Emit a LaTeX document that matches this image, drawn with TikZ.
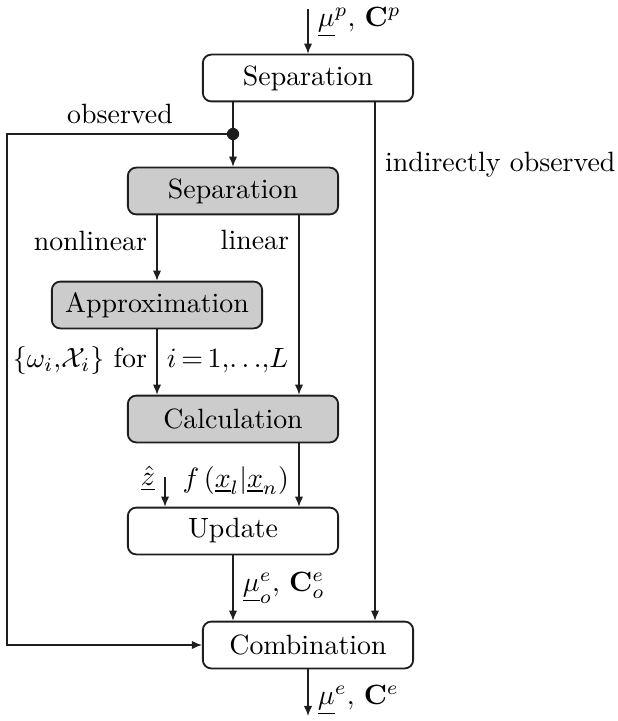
\documentclass[tikz,border=0pt]{standalone}
\usepackage{amsmath,amssymb}
\usepackage{xcolor}
\definecolor{boxgray}{RGB}{204, 204, 204}
\definecolor{linedark}{RGB}{30, 30, 30}
\usepackage{tikz}
\usetikzlibrary{arrows.meta, positioning, calc}

\begin{document}
\begin{tikzpicture}[x=0.0126cm, y=-0.0126cm, >={Latex[length=3.6pt,width=3pt]},
    block/.style={draw=linedark, line width=0.65pt, rounded corners=3pt, minimum width=2.65cm, minimum height=0.59cm, inner sep=2pt},
    plainblock/.style={block, fill=white},
    grayblock/.style={block, fill=boxgray},
    flow/.style={->, line width=0.5pt, draw=linedark}]
    \useasboundingbox (0,0) rectangle (617,721);
    \node[plainblock] (sepTop) at (308,78) {Separation};
    \node[grayblock] (sepInner) at (233,191) {Separation};
    \node[grayblock] (approx) at (157,305) {Approximation};
    \node[grayblock] (calc) at (233,419) {Calculation};
    \node[plainblock] (update) at (233,531) {Update};
    \node[plainblock] (comb) at (308,645) {Combination};
    \coordinate (in) at (308,9);
    \coordinate (out) at (308,716);
    \coordinate (split) at (233,134);
    \coordinate (leftEnd) at (7,134);
    \coordinate (zIn) at (165,477);
    \coordinate (ind) at (375,0);
    \coordinate (lin) at (299,0);
    \draw[flow] (in) -- (sepTop) node[right, pos=0.3] {$\underline{\mu}^p,\,\mathbf{C}^p$};
    \draw[line width=0.5pt, linedark] (sepTop.south -| split) -- (split);
    \fill[linedark] (split) circle (2.2pt);
    \draw[flow] (split) -- (sepInner);
    \draw[flow] (split) -- node[above] {observed} (leftEnd) |- (comb);
    \draw[flow] (sepTop.south -| ind) -- (comb.north -| ind) node[right, pos=0.12] {indirectly observed};
    \draw[flow] (sepInner.south -| approx) -- (approx) node[left, pos=0.4] {nonlinear};
    \draw[flow] (sepInner.south -| lin) -- (calc.north -| lin) node[left, pos=0.14] {linear};
    \draw[flow] (approx) -- (calc.north -| approx)
        node[left, pos=0.48] {$\{\omega_i{,}\mathcal{X}_i\}$ for}
        node[right, pos=0.48] {$i\,{=}\,1{,}{\ldots}{,}L$};
    \draw[flow] (calc.south -| lin) -- (update.north -| lin) node[left, pos=0.58] {$f\left(\underline{x}_l|\underline{x}_n\right)$};
    \draw[flow] (zIn) -- (update.north -| zIn) node[left, pos=0.05] {$\underline{\hat{z}}$};
    \draw[flow] (update) -- (comb.north -| update) node[right, pos=0.5] {$\underline{\mu}_o^e,\,\mathbf{C}_o^e$};
    \draw[flow] (comb) -- (out) node[right, pos=0.66] {$\underline{\mu}^e,\,\mathbf{C}^e$};
\end{tikzpicture}
\end{document}
